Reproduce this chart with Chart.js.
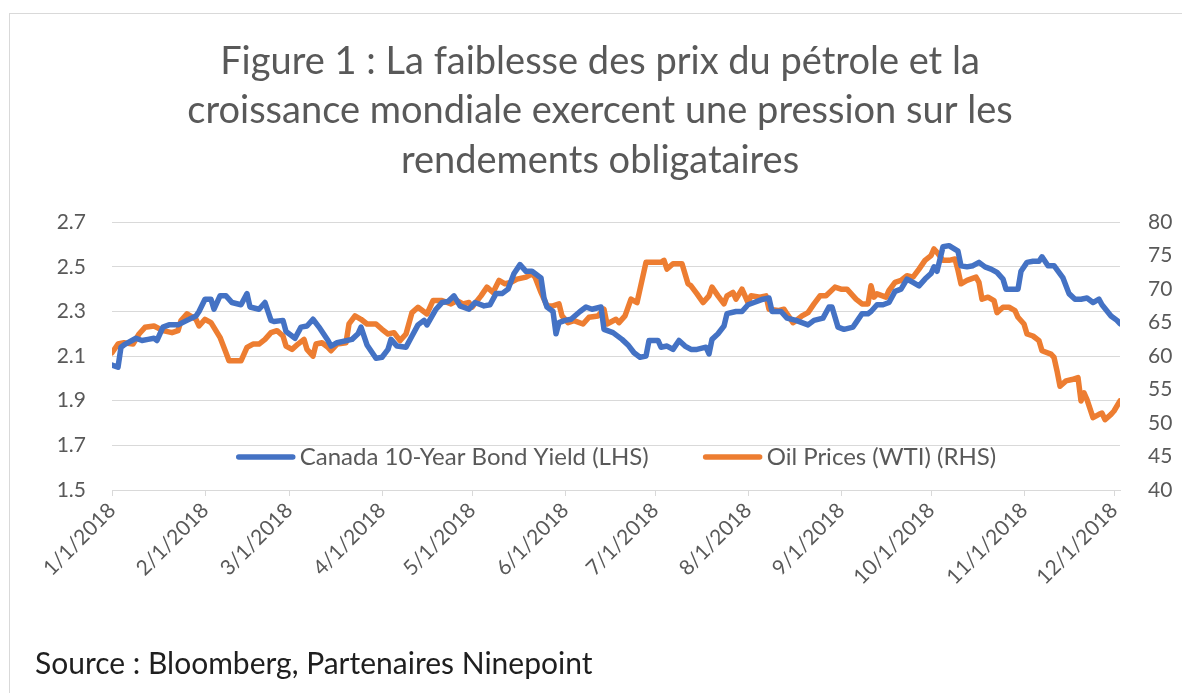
<!DOCTYPE html>
<html>
<head>
<meta charset="utf-8">
<script src="https://cdn.jsdelivr.net/npm/chart.js@4.4.0/dist/chart.umd.min.js"></script>
<style>
  html, body { margin: 0; padding: 0; background: #fff; }
  body { width: 1182px; height: 693px; overflow: hidden; position: relative; }
  .frame { position: absolute; left: 9px; top: 13px; width: 1200px; height: 700px; border: 1px solid #d9d9d9; }
  .wrap { position: absolute; left: 0; top: 0; width: 1182px; height: 693px; }
  .source { position: absolute; left: 35px; top: 644px; font: 30px/36px Lato, "Open Sans", sans-serif; color: #1f1f1f; white-space: nowrap; }
</style>
</head>
<body>
<div class="frame"></div>
<div class="wrap"><canvas id="chart" width="1182" height="693"></canvas></div>
<div class="source">Source : Bloomberg, Partenaires Ninepoint</div>
<script>
// days counted from 1/1/2018
const monthDays = [0, 31, 59, 90, 120, 151, 181, 212, 243, 273, 304, 334];
const tickLabels = ['1/1/2018', '2/1/2018', '3/1/2018', '4/1/2018', '5/1/2018', '6/1/2018',
  '7/1/2018', '8/1/2018', '9/1/2018', '10/1/2018', '11/1/2018', '12/1/2018'];

const yieldDays = [0, 2, 3, 4, 8, 10, 12, 14, 15, 17, 19, 22, 25, 28, 29, 31, 33, 34, 36, 38,
  40, 43, 45, 46, 49, 51, 53, 54, 57, 58, 61, 63, 65, 67, 69, 72, 73, 75, 80, 82,
  83, 85, 88, 90, 92, 93, 95, 98, 100, 102, 104, 105, 108, 110, 112, 114, 116, 119, 121, 124,
  126, 128, 130, 132, 134, 136, 138, 140, 143, 144, 145, 147, 148, 149, 151, 153, 156, 158, 160, 163,
  164, 167, 170, 172, 174, 176, 178, 179, 182, 183, 185, 187, 189, 191, 193, 195, 198, 199, 200, 202,
  204, 205, 208, 210, 212, 214, 217, 219, 220, 223, 225, 228, 230, 232, 234, 237, 239, 240, 242, 244,
  247, 248, 250, 252, 253, 255, 257, 259, 261, 263, 265, 267, 269, 271, 273, 274, 275, 277, 279, 282,
  283, 285, 287, 289, 291, 293, 295, 297, 298, 300, 302, 303, 305, 307, 309, 310, 312, 314, 317, 319,
  321, 323, 325, 327, 329, 330, 333, 335, 336];
const yieldValues = [2.06, 2.05, 2.14, 2.15, 2.18, 2.17, 2.175, 2.18, 2.17, 2.23, 2.24, 2.24, 2.26, 2.28, 2.30, 2.355, 2.355, 2.31, 2.37, 2.37,
  2.34, 2.33, 2.38, 2.32, 2.31, 2.34, 2.26, 2.255, 2.26, 2.21, 2.18, 2.23, 2.235, 2.265, 2.23, 2.17, 2.145, 2.16, 2.175, 2.20,
  2.23, 2.15, 2.09, 2.095, 2.13, 2.175, 2.145, 2.14, 2.19, 2.24, 2.26, 2.24, 2.31, 2.34, 2.345, 2.37, 2.325, 2.31, 2.34, 2.325,
  2.33, 2.38, 2.38, 2.40, 2.47, 2.51, 2.48, 2.48, 2.45, 2.36, 2.32, 2.30, 2.20, 2.25, 2.26, 2.265, 2.30, 2.32, 2.31, 2.32,
  2.22, 2.205, 2.175, 2.15, 2.115, 2.095, 2.10, 2.17, 2.17, 2.14, 2.145, 2.13, 2.17, 2.145, 2.13, 2.13, 2.14, 2.11, 2.175, 2.20,
  2.235, 2.29, 2.30, 2.30, 2.33, 2.34, 2.355, 2.36, 2.30, 2.30, 2.27, 2.26, 2.25, 2.24, 2.26, 2.27, 2.32, 2.32, 2.23, 2.22,
  2.23, 2.25, 2.29, 2.29, 2.30, 2.33, 2.33, 2.34, 2.39, 2.40, 2.445, 2.43, 2.415, 2.445, 2.47, 2.50, 2.48, 2.59, 2.595, 2.57,
  2.505, 2.50, 2.505, 2.52, 2.50, 2.49, 2.475, 2.445, 2.40, 2.40, 2.40, 2.48, 2.52, 2.525, 2.525, 2.545, 2.505, 2.505, 2.45, 2.38,
  2.355, 2.355, 2.36, 2.34, 2.355, 2.33, 2.28, 2.26, 2.245];

const oilDays = [0, 2, 4, 7, 9, 11, 14, 17, 20, 22, 23, 25, 28, 29, 31, 33, 36, 38, 39, 43,
  45, 47, 49, 51, 53, 55, 57, 58, 60, 62, 64, 65, 67, 68, 70, 72, 73, 75, 78, 79,
  81, 83, 85, 88, 90, 92, 94, 96, 98, 100, 102, 105, 107, 110, 113, 115, 117, 119, 120, 123,
  125, 127, 129, 131, 133, 135, 138, 140, 141, 143, 145, 147, 149, 150, 152, 154, 157, 159, 162, 164,
  165, 168, 169, 171, 173, 175, 177, 178, 180, 183, 184, 185, 187, 190, 192, 193, 195, 197, 199, 200,
  202, 204, 205, 207, 208, 210, 212, 213, 216, 218, 219, 222, 224, 225, 227, 228, 230, 232, 234, 236,
  238, 241, 243, 245, 248, 250, 252, 253, 254, 255, 258, 259, 261, 263, 265, 267, 269, 271, 273, 274,
  275, 277, 279, 281, 282, 283, 285, 288, 289, 290, 292, 294, 295, 297, 299, 301, 302, 304, 305, 307,
  309, 310, 313, 314, 315, 316, 318, 320, 322, 323, 324, 325, 327, 329, 330, 331, 333, 334, 336];
const oilValues = [60.5, 61.8, 62.0, 61.8, 63.3, 64.3, 64.5, 63.8, 63.5, 63.8, 65.3, 66.3, 65.5, 64.5, 65.5, 65.0, 62.8, 60.5, 59.3, 59.3,
  61.3, 61.8, 61.8, 62.5, 63.5, 63.8, 63.0, 61.5, 61.0, 61.8, 62.5, 61.0, 60.0, 61.8, 62.0, 61.3, 60.8, 61.8, 62.0, 64.8,
  66.0, 65.5, 64.8, 64.8, 64.0, 63.3, 63.5, 62.3, 63.3, 66.5, 67.3, 66.3, 68.3, 68.3, 67.8, 68.3, 67.8, 68.0, 67.3, 69.0,
  70.3, 69.5, 71.3, 70.8, 71.0, 71.5, 71.8, 72.3, 71.8, 69.5, 67.5, 67.5, 67.8, 66.0, 65.0, 65.3, 64.8, 65.8, 66.0, 67.0,
  64.8, 65.5, 65.0, 66.0, 68.5, 68.0, 72.0, 74.0, 74.0, 74.0, 74.3, 73.0, 73.8, 73.8, 70.8, 70.5, 69.3, 68.0, 69.0, 70.3,
  69.0, 67.8, 69.0, 69.5, 68.5, 70.0, 68.0, 69.0, 68.8, 69.0, 67.0, 66.8, 67.0, 66.3, 65.0, 65.3, 66.0, 66.5, 67.8, 69.0,
  69.0, 70.3, 70.0, 70.0, 68.5, 67.8, 67.8, 70.5, 68.8, 69.3, 68.8, 69.8, 71.0, 71.3, 72.0, 71.8, 73.0, 74.3, 75.0, 76.0,
  75.5, 74.3, 74.3, 74.5, 72.8, 70.8, 71.3, 71.8, 71.0, 68.5, 68.8, 68.3, 66.5, 67.3, 67.3, 66.8, 65.8, 64.8, 63.3, 63.0,
  62.3, 60.8, 60.3, 59.8, 57.8, 55.5, 56.3, 56.5, 56.8, 53.3, 54.5, 53.5, 50.8, 51.3, 51.5, 50.5, 51.3, 51.8, 53.3];

const leftTicks = [1.5, 1.7, 1.9, 2.1, 2.3, 2.5, 2.7];
const rightTicks = [40, 45, 50, 55, 60, 65, 70, 75, 80];

const FONT = 'Lato, "Open Sans", sans-serif';
const GREY = '#595959';

// Excel-style legend sitting inside the plot, just above the x axis
const insideLegend = {
  id: 'insideLegend',
  afterDraw(chart) {
    const { ctx, chartArea } = chart;
    const y = chartArea.bottom - 33;
    ctx.save();
    ctx.font = '24px ' + FONT;
    ctx.textBaseline = 'middle';
    const sample = 60, gap = 4, itemGap = 54;
    const items = chart.data.datasets.map((ds) => ({
      label: ds.label,
      color: ds.borderColor,
      w: sample + gap + ctx.measureText(ds.label).width,
    }));
    const total = items.reduce((s, it) => s + it.w, 0) + itemGap * (items.length - 1);
    let x = (chartArea.left + chartArea.right) / 2 - total / 2;
    items.forEach((it) => {
      ctx.strokeStyle = it.color;
      ctx.lineWidth = 5.5;
      ctx.lineCap = 'round';
      ctx.beginPath();
      ctx.moveTo(x + 3, y);
      ctx.lineTo(x + sample - 3, y);
      ctx.stroke();
      ctx.fillStyle = GREY;
      ctx.fillText(it.label, x + sample + gap, y);
      x += it.w + itemGap;
    });
    ctx.restore();
  },
};

new Chart(document.getElementById('chart'), {
  type: 'line',
  data: {
    datasets: [
      {
        label: 'Canada 10-Year Bond Yield (LHS)',
        data: yieldDays.map((d, i) => ({ x: d, y: yieldValues[i] })),
        borderColor: '#4472C4',
        yAxisID: 'y',
      },
      {
        label: 'Oil Prices (WTI) (RHS)',
        data: oilDays.map((d, i) => ({ x: d, y: oilValues[i] })),
        borderColor: '#ED7D31',
        yAxisID: 'y1',
      },
    ],
  },
  options: {
    responsive: false,
    animation: false,
    devicePixelRatio: 1,
    layout: { padding: { top: 12, left: 18, right: 0, bottom: 0 } },
    elements: {
      point: { radius: 0, hoverRadius: 0 },
      line: { borderWidth: 5.5, tension: 0, borderJoinStyle: 'round', borderCapStyle: 'round', fill: false },
    },
    plugins: {
      legend: { display: false },
      tooltip: { enabled: false },
      title: {
        display: true,
        text: [
          'Figure 1 : La faiblesse des prix du pétrole et la',
          'croissance mondiale exercent une pression sur les',
          'rendements obligataires',
        ],
        color: GREY,
        font: { family: FONT, size: 38, weight: 'normal', lineHeight: 1.3 },
        padding: { top: 25, bottom: 37 },
      },
    },
    scales: {
      x: {
        type: 'linear',
        min: 0,
        max: 336,
        afterBuildTicks: (scale) => { scale.ticks = monthDays.map((v) => ({ value: v })); },
        afterFit: (scale) => { scale.height = 203; },
        grid: { display: true, drawOnChartArea: false, drawTicks: true, tickLength: 6, color: '#d9d9d9' },
        border: { display: true, color: '#d9d9d9' },
        ticks: {
          autoSkip: false,
          minRotation: 45,
          maxRotation: 45,
          padding: 2,
          color: GREY,
          font: { family: FONT, size: 21 },
          callback: (value, index) => tickLabels[index],
        },
      },
      y: {
        position: 'left',
        min: 1.5,
        max: 2.7,
        afterBuildTicks: (scale) => { scale.ticks = leftTicks.map((v) => ({ value: v })); },
        afterFit: (scale) => { scale.width = 94; },
        grid: { color: '#d9d9d9', lineWidth: 1, drawTicks: false },
        border: { display: false },
        ticks: {
          padding: 26,
          color: GREY,
          font: { family: FONT, size: 21 },
          callback: (value) => Number(value).toFixed(1),
        },
      },
      y1: {
        position: 'right',
        min: 40,
        max: 80,
        afterBuildTicks: (scale) => { scale.ticks = rightTicks.map((v) => ({ value: v })); },
        afterFit: (scale) => { scale.width = 62; },
        grid: { display: false, drawTicks: false },
        border: { display: false },
        ticks: {
          padding: 28,
          color: GREY,
          font: { family: FONT, size: 21 },
          callback: (value) => String(value),
        },
      },
    },
  },
  plugins: [insideLegend],
});
</script>
</body>
</html>
